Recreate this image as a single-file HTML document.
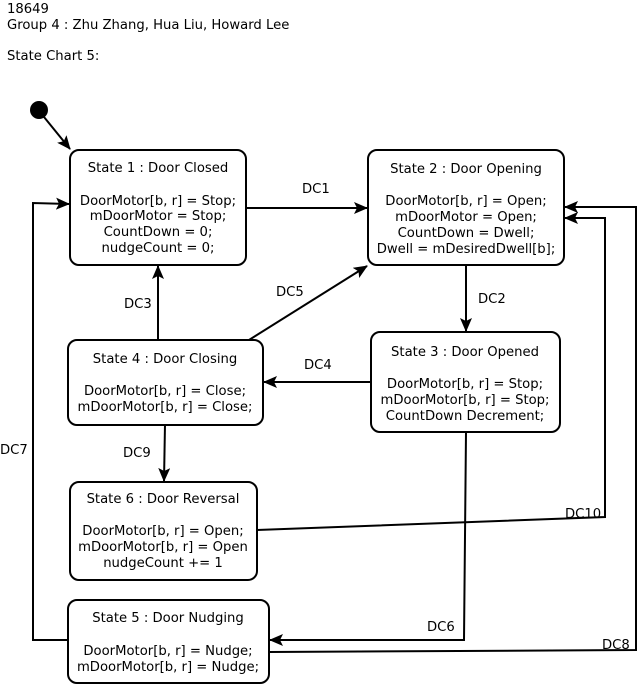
<!DOCTYPE html>
<html><head><meta charset="utf-8"><style>
html,body{margin:0;padding:0;background:#fff;}
svg{display:block;}
text{font-family:"DejaVu Sans","Liberation Sans",sans-serif;font-size:13.2px;fill:#000;}
.c{text-anchor:middle;}
rect{fill:#fff;stroke:#000;stroke-width:2;}
.l{fill:none;stroke:#000;stroke-width:2;}
</style></head><body>
<svg width="638" height="684" viewBox="0 0 638 684" xmlns="http://www.w3.org/2000/svg">
<defs>
<marker id="a" viewBox="0 0 14 12" refX="13" refY="6" markerWidth="14" markerHeight="12" markerUnits="userSpaceOnUse" orient="auto">
<path d="M0,0 L14,6 L0,12 L3,6 Z" fill="#000"/>
</marker>
</defs>
<text x="7" y="13">18649</text>
<text x="7" y="29">Group 4 : Zhu Zhang, Hua Liu, Howard Lee</text>
<text x="7" y="60">State Chart 5:</text>

<circle cx="39" cy="110" r="9" fill="#000"/>
<line class="l" x1="44" y1="117" x2="70" y2="149" marker-end="url(#a)"/>

<line class="l" x1="246" y1="208" x2="367" y2="208" marker-end="url(#a)"/>
<line class="l" x1="466" y1="265" x2="466" y2="331" marker-end="url(#a)"/>
<line class="l" x1="158" y1="340" x2="158" y2="266" marker-end="url(#a)"/>
<line class="l" x1="249" y1="340" x2="367" y2="266" marker-end="url(#a)"/>
<line class="l" x1="371" y1="382" x2="264" y2="382" marker-end="url(#a)"/>
<line class="l" x1="165" y1="424" x2="164" y2="481" marker-end="url(#a)"/>
<polyline class="l" points="257,530 605,517 605,218 565,218" marker-end="url(#a)"/>
<polyline class="l" points="466,432 464,640 270,640" marker-end="url(#a)"/>
<polyline class="l" points="269,652 636,650 636,207 565,207" marker-end="url(#a)"/>
<polyline class="l" points="68,640 33,640 33,203 69,204" marker-end="url(#a)"/>

<text x="302" y="193">DC1</text>
<text x="478" y="303">DC2</text>
<text x="124" y="308">DC3</text>
<text x="276" y="296">DC5</text>
<text x="304" y="369">DC4</text>
<text x="123" y="457">DC9</text>
<text x="565" y="518">DC10</text>
<text x="427" y="631">DC6</text>
<text x="602" y="649">DC8</text>
<text x="0" y="454">DC7</text>

<rect x="70" y="150" width="176" height="115" rx="9"/>
<text class="c" x="158" y="172">State 1 : Door Closed</text>
<text class="c" x="158" y="205">DoorMotor[b, r] = Stop;</text>
<text class="c" x="158" y="220">mDoorMotor = Stop;</text>
<text class="c" x="158" y="236">CountDown = 0;</text>
<text class="c" x="158" y="252">nudgeCount = 0;</text>

<rect x="368" y="150" width="196" height="115" rx="9"/>
<text class="c" x="466" y="173">State 2 : Door Opening</text>
<text class="c" x="466" y="205">DoorMotor[b, r] = Open;</text>
<text class="c" x="466" y="221">mDoorMotor = Open;</text>
<text class="c" x="466" y="237">CountDown = Dwell;</text>
<text class="c" x="466" y="253">Dwell = mDesiredDwell[b];</text>

<rect x="371" y="332" width="189" height="100" rx="9"/>
<text class="c" x="465" y="356">State 3 : Door Opened</text>
<text class="c" x="465" y="388">DoorMotor[b, r] = Stop;</text>
<text class="c" x="465" y="404">mDoorMotor[b, r] = Stop;</text>
<text class="c" x="465" y="420">CountDown Decrement;</text>

<rect x="68" y="340" width="195" height="85" rx="9"/>
<text class="c" x="165" y="363">State 4 : Door Closing</text>
<text class="c" x="165" y="395">DoorMotor[b, r] = Close;</text>
<text class="c" x="165" y="411">mDoorMotor[b, r] = Close;</text>

<rect x="70" y="482" width="187" height="98" rx="9"/>
<text class="c" x="163" y="503">State 6 : Door Reversal</text>
<text class="c" x="163" y="535">DoorMotor[b, r] = Open;</text>
<text class="c" x="163" y="551">mDoorMotor[b, r] = Open</text>
<text class="c" x="163" y="567">nudgeCount += 1</text>

<rect x="68" y="600" width="201" height="83" rx="9"/>
<text class="c" x="168" y="622">State 5 : Door Nudging</text>
<text class="c" x="168" y="655">DoorMotor[b, r] = Nudge;</text>
<text class="c" x="168" y="671">mDoorMotor[b, r] = Nudge;</text>
</svg>
</body></html>
